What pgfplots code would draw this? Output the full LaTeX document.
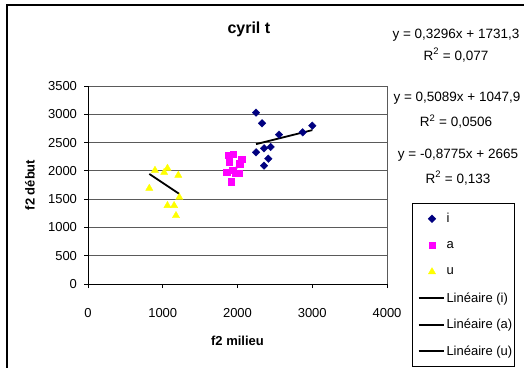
\documentclass[border=0pt]{standalone}
\usepackage{fontspec}
\setmainfont{Liberation Sans}
\usepackage{pgfplots}
\pgfplotsset{compat=1.18}
\definecolor{navyi}{HTML}{000080}
\definecolor{magA}{HTML}{FF00FF}
\definecolor{yelU}{HTML}{FFFF00}
\definecolor{gridc}{RGB}{90,90,90}
\pgfplotsset{
  marklegend/.style={legend image code/.code={\path[draw=none] (0pt,0pt) -- (32pt,0pt); \draw[##1] plot coordinates {(17.5pt,0pt)};}},
  linelegend/.style={legend image code/.code={\path[draw=none] (0pt,0pt) -- (32pt,0pt); \draw[##1] (4pt,0pt) -- (29pt,0pt);}},
}
\begin{document}
\begin{tikzpicture}[x=1pt,y=1pt]
\useasboundingbox (0,0) rectangle (524,367);
\begin{scope}
\clip (0,0) rectangle (524,367);
\fill[white] (0,0) rectangle (524,367);
\draw[line width=1.3pt] (7,-10) -- (7,362) -- (540,362);
\begin{axis}[
  at={(88pt,83pt)}, anchor=origin, scale only axis, width=299pt, height=198pt,
  xmin=0, xmax=4000, ymin=0, ymax=3500,
  xtick={0,1000,2000,3000,4000}, ytick={0,500,1000,1500,2000,2500,3000,3500},
  axis x line*=bottom, axis y line*=left,
  axis line style={black, line width=1pt, -},
  tick align=outside, major tick length=4pt, tick style={black, line width=1pt},
  ymajorgrids, grid style={gridc, line width=1pt},
  /pgf/number format/assume math mode=true, /pgf/number format/1000 sep={},
  tick label style={font=\fontsize{13}{15}\selectfont},
  xticklabel style={yshift=-17pt},
  yticklabel style={xshift=-3.5pt},
  xlabel={f2 milieu}, ylabel={f2 début},
  every axis x label/.style={at={(axis description cs:0.5,-0.288)}, anchor=center, font=\bfseries\fontsize{13}{15}\selectfont},
  every axis y label/.style={at={(axis description cs:-0.194,0.5)}, anchor=center, rotate=90, font=\bfseries\fontsize{13}{15}\selectfont},
  title={cyril t},
  title style={font=\bfseries\fontsize{16}{18}\selectfont, at={(axis description cs:0.538,1.2576)}, anchor=center},
  clip=false,
  legend cell align=left,
  legend style={at={(rel axis cs:1.0836,0.409)}, anchor=north west, draw=black, line width=1pt,
    inner xsep=2pt, inner ysep=2pt, font=\fontsize{13}{15}\selectfont, row sep=0pt,
    nodes={minimum height=26.5pt, inner sep=0pt}},
]
\addplot[only marks, mark=square*, mark size=2.7pt,
  mark options={rotate=45, fill=navyi, draw=navyi, line width=0.3pt}, marklegend]
  coordinates {(2248,3029) (2328,2841) (2555,2641) (2872,2681) (3001,2799)
               (2248,2328) (2355,2399) (2444,2422) (2412,2215) (2355,2092)};
\addlegendentry{i}
\addplot[only marks, mark=square*, mark size=3.3pt,
  mark options={fill=magA, draw=magA, line width=0.3pt}, marklegend]
  coordinates {(1877,2281) (1944,2298) (1890,2160) (2056,2210) (2030,2130)
               (1855,1975) (1935,2010) (2024,1957) (1913,1810) (1976,1957)};
\addlegendentry{a}
\addplot[only marks, mark=triangle*, mark size=4.2pt,
  mark options={fill=yelU, draw=yelU, line width=0.3pt}, marklegend]
  coordinates {(820,1692) (896,2010) (1019,1972) (1063,2046) (1208,1922)
               (1222,1532) (1063,1387) (1152,1387) (1177,1210)};
\addlegendentry{u}
\addplot[black, line width=1.8pt, no marks, linelegend]
  coordinates {(2248,2472.2) (3001,2720.4)};
\addlegendentry{Linéaire (i)}
\addplot[black, line width=1.8pt, no marks, linelegend]
  coordinates {(1855,1991.9) (2056,2094.2)};
\addlegendentry{Linéaire (a)}
\addplot[black, line width=1.8pt, no marks, linelegend]
  coordinates {(820,1945.5) (1222,1592.7)};
\addlegendentry{Linéaire (u)}
\draw[gridc, line width=1pt] (rel axis cs:1,0) -- (rel axis cs:1,1);
\end{axis}
\begin{scope}[every node/.style={font=\fontsize{13.5}{15}\selectfont, anchor=center}]
\node at (456,332) {y = 0,3296x + 1731,3};
\node at (456,312) {R\textsuperscript{2} = 0,077};
\node at (457,268.7) {y = 0,5089x + 1047,9};
\node at (456,245.3) {R\textsuperscript{2} = 0,0506};
\node at (458,212) {y = -0,8775x + 2665};
\node at (458,189) {R\textsuperscript{2} = 0,133};
\end{scope}
\end{scope}
\end{tikzpicture}
\end{document}
